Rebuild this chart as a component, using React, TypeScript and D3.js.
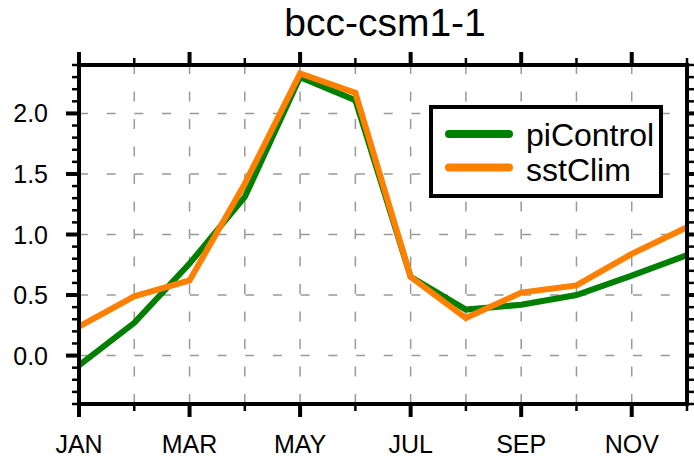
import React from "react";
import * as d3 from "d3";

const months = ["JAN", "FEB", "MAR", "APR", "MAY", "JUN", "JUL", "AUG", "SEP", "OCT", "NOV", "DEC"];
const piControl = [-0.08, 0.27, 0.76, 1.31, 2.3, 2.11, 0.65, 0.38, 0.42, 0.5, 0.66, 0.83];
const sstClim = [0.24, 0.49, 0.62, 1.42, 2.33, 2.17, 0.65, 0.31, 0.52, 0.58, 0.84, 1.06];
const yMajorTicks = [0, 0.5, 1.0, 1.5, 2.0];
const yDomain = [-0.4, 2.4];
const seriesNames = ["piControl", "sstClim"];
const seriesColors = ["#008000", "#ff8000"];

const W = 694;
const H = 459;
const L = 79, R = 687, T = 65, B = 404;
const FONT = "'Liberation Sans', Arial, Helvetica, sans-serif";

export default function App() {
  const x = d3.scaleLinear().domain([0, 11]).range([L, R]);
  const y = d3.scaleLinear().domain(yDomain).range([B, T]);
  const line = d3
    .line<number>()
    .x((_, i) => x(i))
    .y((d) => y(d));

  const minorY = d3.range(-4, 25).map((k) => k / 10);
  const series = [piControl, sstClim];

  return (
    <svg
      width={W}
      height={H}
      style={{ position: "absolute", left: 0, top: 0, background: "#fff" }}
      fontFamily={FONT}
    >
      <rect x={0} y={0} width={W} height={H} fill="#fff" />
      <text x={385} y={36} fontSize={39} textAnchor="middle" fill="#000">
        bcc-csm1-1
      </text>

      {/* grid */}
      <g stroke="#999" strokeWidth={1.5} fill="none">
        {months.slice(1, 11).map((m, i) => (
          <line key={m} x1={x(i + 1)} x2={x(i + 1)} y1={B} y2={T} strokeDasharray="10 17.5" />
        ))}
        {yMajorTicks.map((v) => (
          <line key={v} x1={L} x2={R} y1={y(v)} y2={y(v)} strokeDasharray="9 18.7" />
        ))}
      </g>

      {/* series */}
      <g fill="none" strokeWidth={6} strokeLinejoin="miter">
        {series.map((s, i) => (
          <path key={seriesNames[i]} d={line(s) || ""} stroke={seriesColors[i]} />
        ))}
      </g>

      {/* minor y ticks */}
      <g stroke="#000" strokeWidth={2.5}>
        {minorY.map((v) => (
          <g key={v}>
            <line x1={L - 7} x2={L} y1={y(v)} y2={y(v)} />
            <line x1={R} x2={R + 7} y1={y(v)} y2={y(v)} />
          </g>
        ))}
      </g>
      <g stroke="#000" strokeWidth={4}>
        {yMajorTicks.map((v) => (
          <g key={v}>
            <line x1={L - 13} x2={L} y1={y(v)} y2={y(v)} />
            <line x1={R} x2={R + 13} y1={y(v)} y2={y(v)} />
          </g>
        ))}
      </g>
      {/* x ticks */}
      <g stroke="#000">
        {months.map((m, i) => {
          const major = i % 2 === 0;
          const len = major ? 13 : 7;
          return (
            <g key={m} strokeWidth={major ? 4 : 2.5}>
              <line x1={x(i)} x2={x(i)} y1={B} y2={B + len} />
              <line x1={x(i)} x2={x(i)} y1={T - len} y2={T} />
            </g>
          );
        })}
      </g>

      {/* frame */}
      <rect x={L} y={T} width={R - L} height={B - T} fill="none" stroke="#000" strokeWidth={4} />

      {/* labels */}
      <g fontSize={25} fill="#000">
        {yMajorTicks.map((v) => (
          <text key={v} x={48} y={y(v)} dy="0.36em" textAnchor="end">
            {d3.format(".1f")(v)}
          </text>
        ))}
        {months.map((m, i) =>
          i % 2 === 0 ? (
            <text key={m} x={x(i)} y={453} textAnchor="middle">
              {m}
            </text>
          ) : null
        )}
      </g>

      {/* legend */}
      <rect x={431} y={107} width={230} height={89} fill="#fff" stroke="#000" strokeWidth={4} />
      {seriesNames.map((n, i) => (
        <g key={n}>
          <line
            x1={449}
            x2={509}
            y1={134 + i * 33.5}
            y2={134 + i * 33.5}
            stroke={seriesColors[i]}
            strokeWidth={8}
            strokeLinecap="round"
          />
          <text x={526} y={146 + i * 35} fontSize={32} fill="#000">
            {n}
          </text>
        </g>
      ))}
    </svg>
  );
}
